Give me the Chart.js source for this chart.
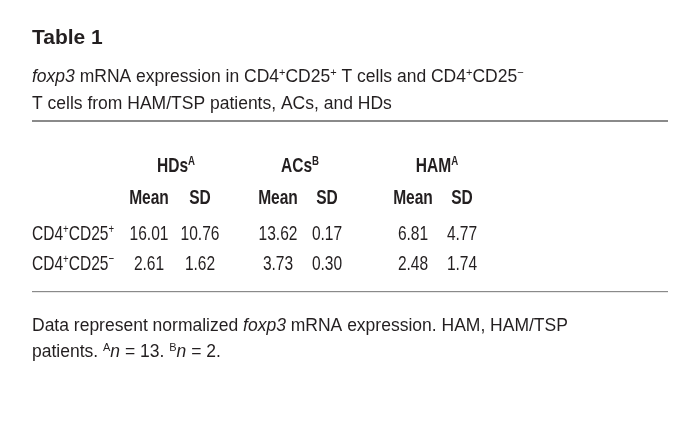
<!DOCTYPE html>
<html>
<head>
<meta charset="utf-8">
<script src="https://cdn.jsdelivr.net/npm/chart.js@4/dist/chart.umd.min.js"></script>
<style>
html,body{margin:0;padding:0;background:#fff;}
#wrap{width:700px;height:439px;}
</style>
</head>
<body>
<div id="wrap"><canvas id="c"></canvas></div>
<script>
// table data
const groups = ['HDs', 'ACs', 'HAM'];
const groupNotes = ['A', 'B', 'A'];
const rowLabels = [['CD4', '+', 'CD25', '+'], ['CD4', '+', 'CD25', '\u2212']];
const means = [[16.01, 13.62, 6.81], [2.61, 3.73, 2.48]];
const sds = [[10.76, 0.17, 4.77], [1.62, 0.30, 1.74]];

const FONT = '"Liberation Sans", Arial, sans-serif';
const SQUEEZE = 0.74;
const groupX = [176, 300, 437];
const meanX = [149, 278, 413];
const sdX = [200, 327, 462];
const rowY = [233, 263];

// draws a run of condensed text parts; each part [text, kind] kind: n, sup
function run(ctx, x, y, parts, size, base, align) {
  const fontFor = (k) => {
    const s = k === 'sup' ? size * 0.62 : size;
    return `${base} ${s}px ${FONT}`;
  };
  let w = 0;
  parts.forEach(([t, k]) => { ctx.font = fontFor(k); w += ctx.measureText(t).width; });
  ctx.save();
  ctx.translate(x, y);
  ctx.scale(SQUEEZE, 1);
  let cx = align === 'center' ? -w / 2 : 0;
  ctx.textAlign = 'left';
  ctx.textBaseline = 'alphabetic';
  parts.forEach(([t, k]) => {
    ctx.font = fontFor(k);
    const dy = k === 'sup' ? -size * 0.33 : 0;
    ctx.fillText(t, cx, dy);
    cx += ctx.measureText(t).width;
  });
  ctx.restore();
}

const tablePlugin = {
  id: 'table',
  afterDraw(chart) {
    const ctx = chart.ctx, sx = chart.scales.x, sy = chart.scales.y;
    const X = v => sx.getPixelForValue(v), Y = v => sy.getPixelForValue(v);
    ctx.save();
    ctx.fillStyle = '#231f20';
    ctx.font = `bold 21px ${FONT}`;
    ctx.textAlign = 'left';
    ctx.fillText('Table 1', X(32), Y(44));
    const sub = (parts, y) => {
      let cx = X(32);
      parts.forEach(([t, k]) => {
        const s = k === 'sup' ? 11 : 17.5;
        ctx.font = `${k === 'i' ? 'italic ' : ''}${s}px ${FONT}`;
        ctx.fillText(t, cx, Y(y) + (k === 'sup' ? -6 : 0));
        cx += ctx.measureText(t).width;
      });
    };
    sub([['foxp3', 'i'], [' mRNA expression in CD4', 'n'], ['+', 'sup'], ['CD25', 'n'], ['+', 'sup'], [' T cells and CD4', 'n'], ['+', 'sup'], ['CD25', 'n'], ['\u2212', 'sup']], 82);
    sub([['T cells from HAM/TSP patients, ACs, and HDs', 'n']], 109);
    ctx.fillStyle = '#8a8a8a';
    ctx.fillRect(X(32), Y(120), X(668) - X(32), 2);
    ctx.fillRect(X(32), Y(291), X(668) - X(32), 1.2);
    ctx.fillStyle = '#231f20';
    groups.forEach((g, i) => {
      run(ctx, X(groupX[i]), Y(172), [[g, 'n'], [groupNotes[i], 'sup']], 21, 'bold', 'center');
      run(ctx, X(meanX[i]), Y(204), [['Mean', 'n']], 21, 'bold', 'center');
      run(ctx, X(sdX[i]), Y(204), [['SD', 'n']], 21, 'bold', 'center');
    });
    rowLabels.forEach((lab, r) => {
      run(ctx, X(32), Y(rowY[r] + 7), [[lab[0], 'n'], [lab[1], 'sup'], [lab[2], 'n'], [lab[3], 'sup']], 21, 'normal', 'left');
      groups.forEach((g, i) => {
        run(ctx, X(meanX[i]), Y(rowY[r] + 7), [[means[r][i].toFixed(2), 'n']], 21, 'normal', 'center');
        run(ctx, X(sdX[i]), Y(rowY[r] + 7), [[sds[r][i].toFixed(2), 'n']], 21, 'normal', 'center');
      });
    });
    sub([['Data represent normalized ', 'n'], ['foxp3', 'i'], [' mRNA expression. HAM, HAM/TSP', 'n']], 331);
    sub([['patients. ', 'n'], ['A', 'sup'], ['n', 'i'], [' = 13. ', 'n'], ['B', 'sup'], ['n', 'i'], [' = 2.', 'n']], 357);
    ctx.restore();
  }
};

new Chart(document.getElementById('c'), {
  type: 'scatter',
  data: { datasets: [{ data: [] }] },
  options: {
    responsive: true,
    maintainAspectRatio: false,
    animation: false,
    layout: { padding: 0 },
    plugins: { legend: { display: false }, tooltip: { enabled: false } },
    scales: {
      x: { type: 'linear', min: 0, max: 700, display: false },
      y: { type: 'linear', min: 0, max: 439, reverse: true, display: false }
    }
  },
  plugins: [tablePlugin]
});
</script>
</body>
</html>
